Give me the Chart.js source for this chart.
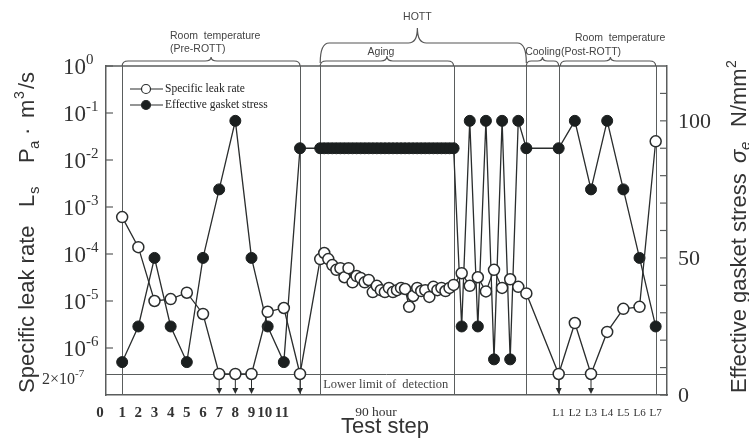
<!DOCTYPE html>
<html>
<head>
<meta charset="utf-8">
<script src="https://cdn.jsdelivr.net/npm/chart.js@4.4.0/dist/chart.umd.min.js"></script>
<style>
  html, body { margin: 0; padding: 0; background: #fff; }
  #wrap { width: 749px; height: 438px; position: relative; }
</style>
</head>
<body>
<div id="wrap"><canvas id="leakChart"></canvas></div>
<script>
// Lower limit of detection (leak rate), placed where the figure draws it
const LIMIT = 2.8e-7;

// Room temperature (Pre-ROTT): steps 1-11, then heat-up point
const preSteps  = [1, 2, 3, 4, 5, 6, 7, 8, 9, 10, 11, 12];
const preLeak   = [6.1e-4, 1.4e-4, 1.0e-5, 1.1e-5, 1.5e-5, 5.3e-6, LIMIT, LIMIT, LIMIT, 5.9e-6, 7.1e-6, LIMIT];
const preStress = [12, 25, 50, 25, 12, 50, 75, 100, 50, 25, 12, 90];

// HOTT aging, 90 hour
const agingSteps = [13.25, 13.5, 13.75, 14, 14.25, 14.5, 14.75, 15, 15.25, 15.5, 15.75, 16,
                    16.25, 16.5, 16.75, 17, 17.25, 17.5, 17.75, 18, 18.25, 18.5, 18.75, 19,
                    19.25, 19.5, 19.75, 20, 20.25, 20.5, 20.75, 21, 21.25, 21.5];
const agingLeak = [7.8e-5, 1.05e-4, 7.8e-5, 5.8e-5, 4.6e-5, 5.0e-5, 3.2e-5, 5.0e-5, 2.5e-5, 3.4e-5,
                   3.1e-5, 2.5e-5, 2.8e-5, 1.55e-5, 2.1e-5, 1.7e-5, 1.55e-5, 1.9e-5, 1.55e-5, 1.7e-5,
                   1.9e-5, 1.8e-5, 7.5e-6, 1.28e-5, 1.9e-5, 1.63e-5, 1.7e-5, 1.22e-5, 2.0e-5, 1.7e-5,
                   1.9e-5, 1.63e-5, 1.9e-5, 2.2e-5];
const agingStress = [90, 90, 90, 90, 90, 90, 90, 90, 90, 90, 90, 90, 90, 90, 90, 90, 90,
                     90, 90, 90, 90, 90, 90, 90, 90, 90, 90, 90, 90, 90, 90, 90, 90, 90];

// HOTT load cycling, end of cooling start
const hottSteps  = [22, 22.5, 23, 23.5, 24, 24.5, 25, 25.5, 26];
const hottLeak   = [3.9e-5, 2.1e-5, 3.2e-5, 1.6e-5, 4.6e-5, 1.9e-5, 2.9e-5, 2.0e-5, 1.45e-5];
const hottStress = [25, 100, 25, 100, 13, 100, 13, 100, 90];

// Room temperature (Post-ROTT): L1-L7
const postSteps  = [28, 29, 30, 31, 32, 33, 34];
const postLeak   = [LIMIT, 3.4e-6, LIMIT, 2.2e-6, 6.8e-6, 7.5e-6, 2.5e-2];
const postStress = [90, 100, 75, 100, 75, 50, 25];

// x-axis tick labels
const xTickValues = [0, 1, 2, 3, 4, 5, 6, 7, 8, 9, 10, 11];
const xTickLabels = ['0', '1', '2', '3', '4', '5', '6', '7', '8', '9', '10', '11'];
const lTickValues = [28, 29, 30, 31, 32, 33, 34];
const lTickLabels = ['L1', 'L2', 'L3', 'L4', 'L5', 'L6', 'L7'];
const agingTickValue = 16.7;
const agingTickLabel = '90 hour';

// y-axis ticks
const leakDecades = [0, -1, -2, -3, -4, -5, -6];
const stressLabels = [0, 50, 100];
const stressMinor = [0, 10, 20, 30, 40, 50, 60, 70, 80, 90, 100, 110];

// Test phases (brackets above the plot)
const dividerSteps = [1, 12, 13.25, 21.5, 26, 28, 34];

const steps  = [...preSteps, ...agingSteps, ...hottSteps, ...postSteps];
const leak   = [...preLeak, ...agingLeak, ...hottLeak, ...postLeak];
const stress = [...preStress, ...agingStress, ...hottStress, ...postStress];

const SERIF = '"Liberation Serif", "Times New Roman", serif';
const SANS = '"Liberation Sans", Arial, sans-serif';
const INK = '#2a2d2d';
const FRAME = '#5a5d5d';

function brace(ctx, x1, x2, xc, yH, yEnd, cusp, r) {
    ctx.beginPath();
    ctx.moveTo(x1, yEnd);
    ctx.quadraticCurveTo(x1, yH, x1 + r, yH);
    ctx.lineTo(xc - r, yH);
    ctx.quadraticCurveTo(xc, yH, xc, yH - cusp);
    ctx.quadraticCurveTo(xc, yH, xc + r, yH);
    ctx.lineTo(x2 - r, yH);
    ctx.quadraticCurveTo(x2, yH, x2, yEnd);
    ctx.stroke();
}

// draw runs of [text, offset, fontsize, shift] along a rotated title
function rotatedTitle(ctx, bx, by, parts) {
    ctx.save();
    ctx.translate(bx, by);
    ctx.rotate(-Math.PI / 2);
    ctx.textAlign = 'left';
    ctx.textBaseline = 'alphabetic';
    ctx.fillStyle = '#333';
    parts.forEach(([t, off, size, shift, style]) => {
        ctx.font = (style || '') + ' ' + size + 'px ' + SANS;
        ctx.fillText(t, off, shift);
    });
    ctx.restore();
}

const decor = {
    id: 'decor',
    beforeDatasetsDraw(chart) {
        const { ctx, chartArea: a, scales: { x, y, y1 } } = chart;
        ctx.save();
        ctx.strokeStyle = FRAME;
        ctx.lineWidth = 1.3;
        // top frame
        ctx.beginPath();
        ctx.moveTo(a.left, a.top);
        ctx.lineTo(a.right, a.top);
        ctx.stroke();
        // phase dividers
        ctx.lineWidth = 1;
        dividerSteps.forEach(s => {
            const px = Math.round(x.getPixelForValue(s)) + 0.5;
            ctx.beginPath();
            ctx.moveTo(px, a.top);
            ctx.lineTo(px, a.bottom);
            ctx.stroke();
        });
        // lower limit of detection
        const yl = Math.round(y.getPixelForValue(LIMIT)) + 0.5;
        ctx.beginPath();
        ctx.moveTo(a.left, yl);
        ctx.lineTo(a.right, yl);
        ctx.stroke();
        ctx.fillStyle = '#444';
        ctx.font = '12.5px ' + SERIF;
        ctx.textBaseline = 'middle';
        ctx.fillText('Lower limit of  detection', x.getPixelForValue(13.25) + 3, yl + 10);
        // inward ticks
        ctx.lineWidth = 1.2;
        leakDecades.forEach(k => {
            const py = y.getPixelForValue(Math.pow(10, k));
            ctx.beginPath();
            ctx.moveTo(a.left, py);
            ctx.lineTo(a.left + 7, py);
            ctx.stroke();
        });
        stressMinor.forEach(v => {
            const py = y1.getPixelForValue(v);
            ctx.beginPath();
            ctx.moveTo(a.right, py);
            ctx.lineTo(a.right - 7, py);
            ctx.stroke();
        });
        ctx.restore();
    },
    afterDatasetsDraw(chart) {
        const { ctx, chartArea: a, scales: { x, y } } = chart;
        ctx.save();
        ctx.strokeStyle = INK;
        ctx.fillStyle = INK;
        ctx.lineWidth = 1;
        // arrows under points at the detection limit
        steps.forEach((s, i) => {
            if (leak[i] !== LIMIT) return;
            const px = x.getPixelForValue(s);
            const py = y.getPixelForValue(LIMIT);
            ctx.beginPath();
            ctx.moveTo(px, py + 6);
            ctx.lineTo(px, a.bottom - 5);
            ctx.stroke();
            ctx.beginPath();
            ctx.moveTo(px - 3, a.bottom - 7);
            ctx.lineTo(px + 3, a.bottom - 7);
            ctx.lineTo(px, a.bottom - 1);
            ctx.closePath();
            ctx.fill();
        });
        ctx.restore();
    },
    afterDraw(chart) {
        const { ctx, chartArea: a, scales: { x, y, y1 } } = chart;
        ctx.save();

        // legend
        ctx.strokeStyle = INK;
        ctx.lineWidth = 1.2;
        [[89, false, 'Specific leak rate'], [105, true, 'Effective gasket stress']].forEach(([ly, filled, label]) => {
            ctx.beginPath();
            ctx.moveTo(130, ly);
            ctx.lineTo(163, ly);
            ctx.stroke();
            ctx.beginPath();
            ctx.arc(146, ly, 4.5, 0, Math.PI * 2);
            ctx.fillStyle = filled ? '#1b1f1f' : '#fff';
            ctx.fill();
            ctx.stroke();
            ctx.fillStyle = '#222';
            ctx.font = '11.5px ' + SERIF;
            ctx.textBaseline = 'middle';
            ctx.textAlign = 'left';
            ctx.fillText(label, 165, ly);
        });

        // left tick labels 10^k
        ctx.fillStyle = '#333';
        ctx.textAlign = 'left';
        ctx.textBaseline = 'alphabetic';
        leakDecades.forEach(k => {
            const py = y.getPixelForValue(Math.pow(10, k));
            ctx.font = '23px ' + SERIF;
            ctx.fillText('10', 63, py + 8);
            const w = ctx.measureText('10').width;
            ctx.font = '15px ' + SERIF;
            ctx.fillText(k === 0 ? '0' : String(k), 63 + w, py - 2);
        });
        const pl = y.getPixelForValue(LIMIT);
        ctx.font = '16px ' + SERIF;
        ctx.fillText('2\u00d710', 42, pl + 10);
        const wl = ctx.measureText('2\u00d710').width;
        ctx.font = '11px ' + SERIF;
        ctx.fillText('-7', 42 + wl, pl + 3);

        // right tick labels
        ctx.font = '22px ' + SERIF;
        ctx.textBaseline = 'middle';
        stressLabels.forEach(v => {
            ctx.fillText(String(v), a.right + 11, y1.getPixelForValue(v) + 1);
        });

        // x tick labels
        ctx.textAlign = 'center';
        ctx.font = 'bold 15px ' + SERIF;
        xTickValues.forEach((v, i) => {
            const off = v === 0 ? -6 : (v === 10 ? -3 : (v === 11 ? -2 : 0));
            ctx.fillText(xTickLabels[i], x.getPixelForValue(v) + off, 413);
        });
        ctx.font = '11px ' + SERIF;
        lTickValues.forEach((v, i) => {
            ctx.fillText(lTickLabels[i], x.getPixelForValue(v), 413);
        });
        ctx.font = '13.5px ' + SERIF;
        ctx.fillText(agingTickLabel, x.getPixelForValue(agingTickValue), 412);

        // x title
        ctx.font = '22px ' + SANS;
        ctx.fillText('Test step', 385, 427);

        // axis titles
        rotatedTitle(ctx, 34, 393, [
            ['Specific leak rate', 0, 22, 0],
            ['L', 186, 22, 0],
            ['s', 199, 15, 5],
            ['P', 230, 22, 0],
            ['a', 244, 15, 5],
            ['\u00b7', 258, 22, 0],
            ['m', 275, 22, 0],
            ['3', 294, 14, -10],
            ['/s', 304, 22, 0]
        ]);
        rotatedTitle(ctx, 746, 393, [
            ['Effective gasket stress', 0, 22, 0],
            ['\u03c3', 230, 22, 0, 'italic'],
            ['e', 243, 15, 4, 'italic'],
            ['N/mm', 266, 22, 0],
            ['2', 325, 14, -10]
        ]);

        // phase brackets
        ctx.strokeStyle = '#555';
        ctx.lineWidth = 1.2;
        const px = v => x.getPixelForValue(v);
        brace(ctx, px(1), px(12), (px(1) + px(12)) / 2, 61, a.top, 4, 6);
        brace(ctx, px(13.25), px(21.5), (px(13.25) + px(21.5)) / 2, 61, a.top, 5, 6);
        brace(ctx, px(13.25), px(26), px(19.26), 43, 63, 15, 9);
        brace(ctx, px(26), px(28), (px(26) + px(28)) / 2, 61, a.top, 4, 5);
        brace(ctx, px(28.1), px(34), px(31.2), 61, a.top, 4, 6);

        ctx.fillStyle = '#444';
        ctx.font = '10.5px ' + SANS;
        ctx.textAlign = 'left';
        ctx.textBaseline = 'middle';
        ctx.fillText('Room  temperature', 170, 36);
        ctx.fillText('(Pre-ROTT)', 170, 49);
        ctx.fillText('Room  temperature', 575, 38);
        ctx.fillText('(Post-ROTT)', 561, 52);
        ctx.textAlign = 'center';
        ctx.fillText('HOTT', px(19.26), 17);
        ctx.fillText('Aging', 381, 52);
        ctx.fillText('Cooling', 543, 52);
        ctx.restore();
    }
};

const ctx = document.getElementById('leakChart').getContext('2d');
new Chart(ctx, {
    type: 'line',
    data: {
        datasets: [{
            label: 'Specific leak rate',
            data: steps.map((s, i) => ({ x: s, y: leak[i] })),
            yAxisID: 'y',
            borderColor: INK,
            borderWidth: 1.3,
            pointStyle: 'circle',
            pointRadius: 5.5,
            pointBorderWidth: 1.5,
            pointBackgroundColor: '#fff',
            pointBorderColor: INK,
            tension: 0,
            clip: false,
            order: 0
        }, {
            label: 'Effective gasket stress',
            data: steps.map((s, i) => ({ x: s, y: stress[i] })),
            yAxisID: 'y1',
            borderColor: INK,
            borderWidth: 1.3,
            pointStyle: 'circle',
            pointRadius: 5.5,
            pointBorderWidth: 1,
            pointBackgroundColor: '#1b1f1f',
            pointBorderColor: '#1b1f1f',
            tension: 0,
            clip: false,
            order: 1
        }]
    },
    options: {
        responsive: true,
        maintainAspectRatio: false,
        animation: false,
        devicePixelRatio: 1,
        layout: { padding: { left: 106, right: 82, top: 66, bottom: 43 } },
        plugins: { legend: { display: false }, tooltip: { enabled: false } },
        scales: {
            x: {
                type: 'linear', min: 0, max: 34.7,
                ticks: { display: false },
                grid: { display: false, drawTicks: false },
                border: { display: true, color: FRAME, width: 1.5 }
            },
            y: {
                type: 'logarithmic', position: 'left', min: 1e-7, max: 1,
                ticks: { display: false },
                grid: { display: false, drawTicks: false },
                border: { display: true, color: FRAME, width: 1.5 }
            },
            y1: {
                type: 'linear', position: 'right', min: 0, max: 120,
                ticks: { display: false },
                grid: { display: false, drawTicks: false },
                border: { display: true, color: FRAME, width: 1.5 }
            }
        }
    },
    plugins: [decor]
});
</script>
</body>
</html>
